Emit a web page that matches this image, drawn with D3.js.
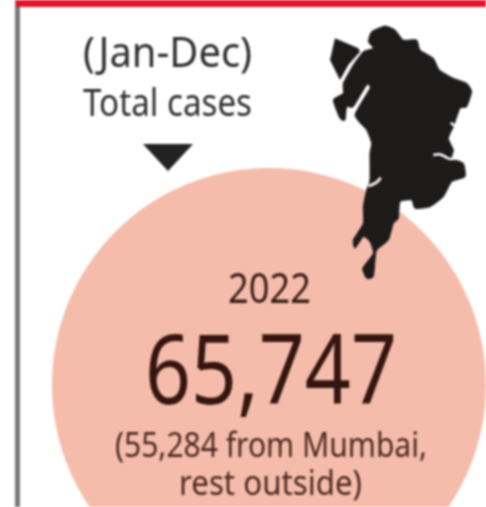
<!DOCTYPE html>
<html>
<head>
<meta charset="utf-8">
<script src="https://cdn.jsdelivr.net/npm/d3@7"></script>
<style>
html, body { margin: 0; padding: 0; background: #fff; }
svg { display: block; filter: blur(0.9px); }
text { font-family: "Noto Sans", sans-serif; }
</style>
</head>
<body>
<div id="chart"></div>
<script>
const width = 486;
const height = 507;

const period = "(Jan-Dec)";
const heading = "Total cases";
const years = ["2022"];
const totals = [65747];
const fromMumbai = [55284];
const restLabel = "rest outside)";

// map outline in its own 0-498 x 0-840 grid
const mapBody = [[155,65],[195,48],[225,60],[250,90],[290,90],[300,120],[340,145],[358,180],[400,205],[440,220],[455,245],[440,290],[420,295],[400,350],[385,385],[400,420],[395,445],[430,460],[435,500],[395,515],[370,560],[330,590],[285,595],[275,570],[240,575],[235,625],[220,640],[205,690],[170,720],[165,750],[160,800],[140,805],[128,775],[160,730],[150,695],[130,680],[105,715],[100,690],[130,640],[130,590],[140,540],[150,510],[150,430],[155,400],[140,360],[105,315],[150,235],[140,225],[100,290],[80,290],[75,330],[60,325],[40,270],[70,250],[70,220],[100,165],[130,125],[160,115],[145,95]];
const mapIsland = [[45,85],[115,115],[120,125],[85,165],[60,210],[30,150]];
const creekEast = [[340,435],[365,430],[385,450],[410,445]];
const creekSouth = [[145,528],[170,520],[182,503]];
const creekSmall = [[392,338],[408,350]];

const svg = d3.select("#chart")
.append("svg")
    .attr("width", width)
    .attr("height", height);

// frame
svg.append("rect").attr("x", 15).attr("y", 0).attr("width", 5).attr("height", height).attr("fill", "#77787a");
svg.append("rect").attr("x", 16).attr("y", 0).attr("width", width - 16).attr("height", 7).attr("fill", "#e4132c");

// circle
svg.append("circle")
    .attr("cx", 269)
    .attr("cy", 385)
    .attr("r", 217)
    .attr("fill", "#f5bcab");

// map
const mapX = d3.scaleLinear([0, 498], [320, 486]);
const mapY = d3.scaleLinear([0, 840], [10, 290]);
const outline = d3.line().x(d => mapX(d[0])).y(d => mapY(d[1]));
const smooth = d3.line().x(d => mapX(d[0])).y(d => mapY(d[1])).curve(d3.curveCardinalClosed.tension(0.5));

svg.append("path").attr("d", smooth(mapBody)).attr("fill", "#1d1a1a").attr("stroke", "#1d1a1a").attr("stroke-width", 1);
svg.append("path").attr("d", outline(mapIsland) + "Z").attr("fill", "#1d1a1a");

svg.selectAll(".creek")
    .data([creekEast, creekSmall])
    .join("path")
    .attr("class", "creek")
    .attr("d", d => outline.curve(d3.curveBasis)(d))
    .attr("fill", "none")
    .attr("stroke", "#fff")
    .attr("stroke-width", 2.5);
svg.append("path")
    .attr("d", outline.curve(d3.curveBasis)(creekSouth))
    .attr("fill", "none")
    .attr("stroke", "#fbe6df")
    .attr("stroke-width", 3);

// arrow
svg.append("path")
    .attr("d", "M143,144L193,144L168,171Z")
    .attr("fill", "#222");

// text, squeezed to the narrow newspaper face
const fmt = d3.format(",");
const labels = [
    { t: period, x: 83, w: 169, y: 67, s: 42, c: "#2e2e2e" },
    { t: heading, x: 83, w: 169, y: 116, s: 39, c: "#2e2e2e" },
    { t: years[0], x: 228, w: 83, y: 303, s: 42, c: "#3a1d17" },
    { t: fmt(totals[0]), x: 145, w: 252, y: 404, s: 96, c: "#35150f" },
    { t: "(" + fmt(fromMumbai[0]) + " from Mumbai,", x: 115, w: 312, y: 457, s: 35, c: "#4a2a22" },
    { t: restLabel, x: 179, w: 183, y: 495, s: 35, c: "#4a2a22" }
];
svg.selectAll(".label")
    .data(labels)
    .join("text")
    .attr("class", "label")
    .attr("x", d => d.x)
    .attr("y", d => d.y)
    .attr("font-size", d => d.s)
    .attr("fill", d => d.c)
    .attr("textLength", d => d.w)
    .attr("lengthAdjust", "spacingAndGlyphs")
    .text(d => d.t);
</script>
</body>
</html>
